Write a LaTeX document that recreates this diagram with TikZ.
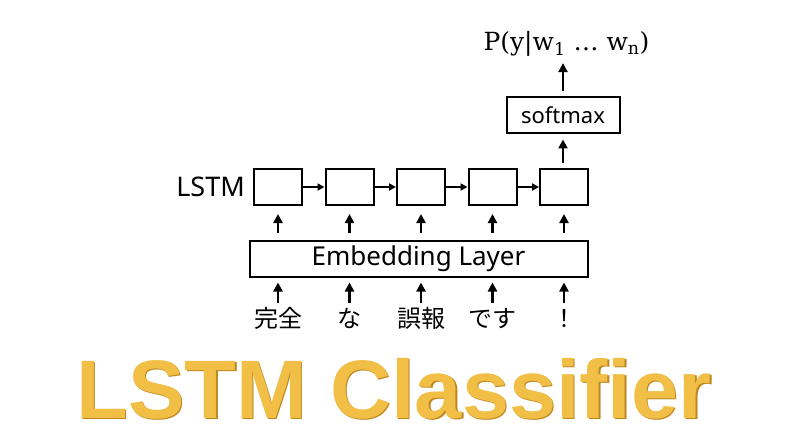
\documentclass[tikz,border=0pt]{standalone}
\usepackage{fontspec}
\setmainfont{Noto Sans CJK JP}
\newfontfamily\labelfont{Noto Sans}
\newfontfamily\titlefont{Liberation Sans}
\newfontfamily\probfont{DejaVu Serif}
\usetikzlibrary{arrows.meta}
\definecolor{gold}{RGB}{241,190,70}
\definecolor{darkgold}{RGB}{190,135,30}
\tikzset{
  cell/.style={draw, line width=2pt, inner sep=0pt, minimum width=48pt, minimum height=36pt},
  word/.style={inner sep=0pt, text height=19pt, text depth=4pt, font=\fontsize{24}{26}\selectfont},
  up/.style={line width=2.6pt, -{Triangle[length=9pt,width=9pt]}},
  side/.style={line width=2pt, -{Triangle[length=7pt,width=7pt]}}
}
\begin{document}
\begin{tikzpicture}[x=1pt,y=-1pt]
      \useasboundingbox (0,0) rectangle (809,425);
      \draw
        (278,187) node[cell] (l1){}
        (349.5,187) node[cell] (l2){}
        (421,187) node[cell] (l3){}
        (492.5,187) node[cell] (l4){}
        (564,187) node[cell] (l5){}
        (418.5,258.5) node[cell, minimum width=338pt] (emb){\labelfont\fontsize{26}{28}\selectfont Embedding Layer}
        (563,115.5) node[cell, minimum width=113pt] (sm){\labelfont\fontsize{22}{24}\selectfont softmax}
        (245,187) node[anchor=east, inner sep=0pt, font=\labelfont\fontsize{27}{30}\selectfont] (lbl){LSTM}
        (278,320) node[word] (w1){完全}
        (349.5,320) node[word] (w2){な}
        (421,320) node[word] (w3){誤報}
        (492.5,320) node[word] (w4){です}
        (564,320) node[word] (w5){！}
        (566.5,51) node[anchor=base, inner sep=0pt, font=\probfont\fontsize{25}{28}\selectfont] (out){P(y|w\textsubscript{1} … w\textsubscript{n})};
      \node[anchor=base, inner sep=0pt, xscale=1.02, text=darkgold, font=\titlefont\bfseries\fontsize{83}{88}\selectfont] (shade) at (395.5,419.5) {LSTM Classifier};
      \node[anchor=base, inner sep=0pt, xscale=1.02, text=gold, font=\titlefont\bfseries\fontsize{83}{88}\selectfont] (title) at (394,418.5) {LSTM Classifier};
      \begin{scope}[up]
        \draw[shorten <=5pt, shorten >=5pt] (w1.north) to (w1 |- emb.south);
        \draw[shorten <=5pt, shorten >=5pt] (w2.north) to (w2 |- emb.south);
        \draw[shorten <=5pt, shorten >=5pt] (w3.north) to (w3 |- emb.south);
        \draw[shorten <=5pt, shorten >=5pt] (w4.north) to (w4 |- emb.south);
        \draw[shorten <=5pt, shorten >=5pt] (w5.north) to (w5 |- emb.south);
        \draw[shorten <=7pt, shorten >=8pt] (l1 |- emb.north) to (l1.south);
        \draw[shorten <=7pt, shorten >=8pt] (l2 |- emb.north) to (l2.south);
        \draw[shorten <=7pt, shorten >=8pt] (l3 |- emb.north) to (l3.south);
        \draw[shorten <=7pt, shorten >=8pt] (l4 |- emb.north) to (l4.south);
        \draw[shorten <=7pt, shorten >=8pt] (l5 |- emb.north) to (l5.south);
        \draw[shorten <=5pt, shorten >=5pt] (l5.north -| sm) to (sm.south);
        \draw[shorten <=5pt, shorten >=6pt] (sm.north) to (sm |- out.south);
      \end{scope}
      \begin{scope}[side]
        \draw (l1) to (l2);
        \draw (l2) to (l3);
        \draw (l3) to (l4);
        \draw (l4) to (l5);
      \end{scope}
    \end{tikzpicture}
\end{document}
